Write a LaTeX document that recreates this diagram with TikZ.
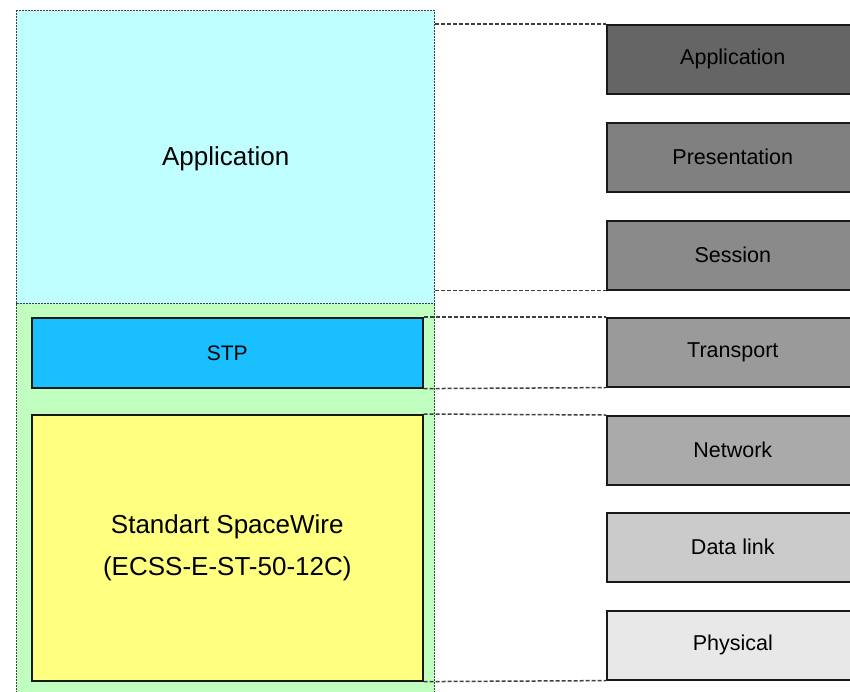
\documentclass[tikz,border=0pt]{standalone}
\usepackage{fontspec}
\setmainfont{Liberation Sans}
\definecolor{appcyan}{HTML}{C0FFFF}
\definecolor{stackgreen}{HTML}{C0FFC0}
\definecolor{stpblue}{HTML}{19BFFF}
\definecolor{swyellow}{HTML}{FFFF80}
\definecolor{edgegray}{HTML}{404040}
\tikzset{
  stackbox/.style={draw=edgegray, line width=1.4pt, dash pattern=on 2pt off 1pt, inner sep=0pt, anchor=north west},
  protobox/.style={draw=black!90, line width=1.6pt, inner sep=0pt, anchor=north west, minimum width=391pt},
  osibox/.style={draw=black!90, line width=1.6pt, inner sep=0pt, anchor=north west,
    minimum width=252pt, minimum height=69pt, text=black,
    font=\fontsize{21.5}{26}\selectfont},
  bigtext/.style={font=\fontsize{26}{42}\selectfont, align=center, text=black},
  guide/.style={draw=edgegray, line width=1.5pt, dash pattern=on 4pt off 2pt},
}
\begin{document}
\begin{tikzpicture}[x=1pt,y=-1pt]
\clip (0,0) rectangle (850,691);
\fill[white] (0,0) rectangle (850,691);

% left-hand stack
\node[stackbox, fill=stackgreen, minimum width=418pt, minimum height=400pt] (lower) at (16,303) {};
\node[stackbox, fill=appcyan, minimum width=418pt, minimum height=293pt] (app) at (16,10) {};
\node[bigtext] (apptext) at ([yshift=-2pt]app.center) {Application};
\node[protobox, fill=stpblue, minimum height=70pt, text=black, font=\fontsize{21}{26}\selectfont] (stp) at (31,317) {STP};
\node[protobox, fill=swyellow, minimum height=266pt, bigtext] (sw) at (31,414) {Standart SpaceWire\\(ECSS-E-ST-50-12C)};

% OSI reference model
\node[osibox, fill={rgb,255:red,101;green,101;blue,101}] (osi7) at (606,24) {Application};
\node[osibox, fill={rgb,255:red,128;green,128;blue,128}] (osi6) at (606,122) {Presentation};
\node[osibox, fill={rgb,255:red,138;green,138;blue,138}] (osi5) at (606,220) {Session};
\node[osibox, fill={rgb,255:red,154;green,154;blue,154}] (osi4) at (606,317) {Transport};
\node[osibox, fill={rgb,255:red,170;green,170;blue,170}] (osi3) at (606,415) {Network};
\node[osibox, fill={rgb,255:red,203;green,203;blue,203}] (osi2) at (606,512) {Data link};
\node[osibox, fill={rgb,255:red,232;green,232;blue,232}] (osi1) at (606,610) {Physical};

% dashed guides between the two stacks
\draw[guide] (app.east |- osi7.north west) -- (osi7.north west);
\draw[guide] (app.east |- osi5.south west) -- (osi5.south west);
\draw[guide] (stp.north east) -- (osi4.north west);
\draw[guide] (stp.south east) -- (osi4.south west);
\draw[guide] (sw.north east) -- (osi3.north west);
\draw[guide] (sw.south east) -- (osi1.south west);
\end{tikzpicture}
\end{document}
